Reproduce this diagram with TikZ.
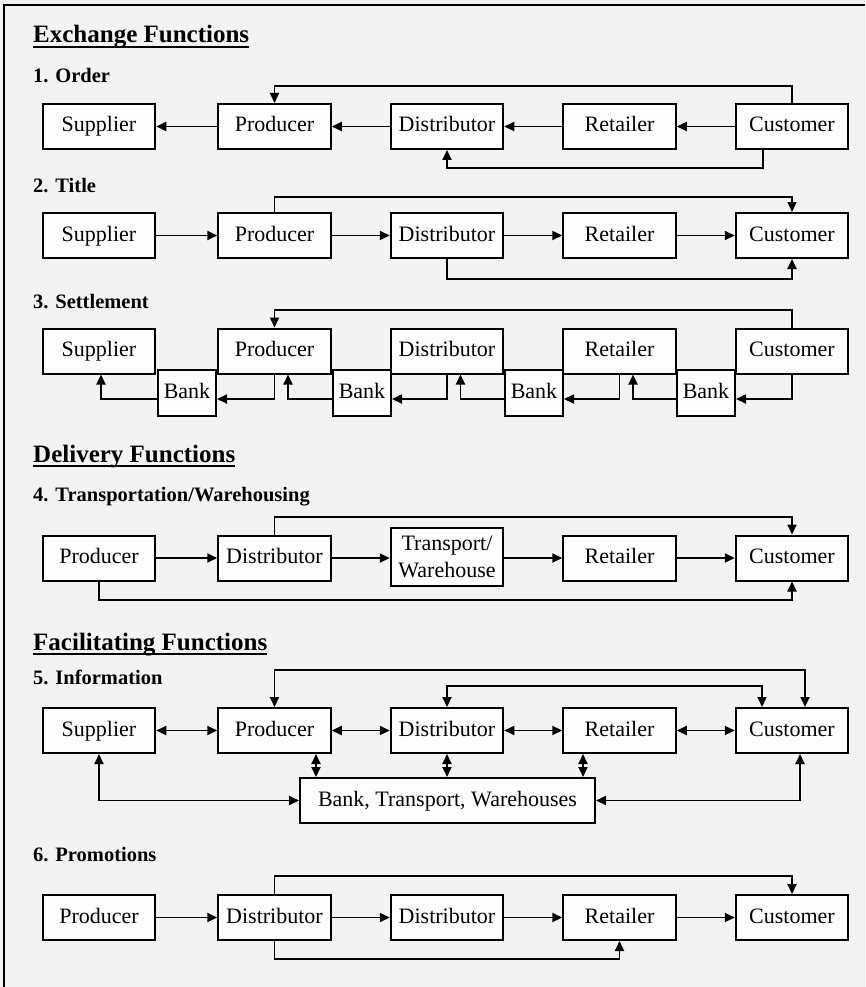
\documentclass[tikz,border=0pt]{standalone}
\usepackage{fontspec}
\setmainfont{Liberation Serif}
\usetikzlibrary{arrows.meta}
\definecolor{paper}{HTML}{F3F3F3}
\definecolor{boxfill}{HTML}{FDFDFD}
\begin{document}
\begin{tikzpicture}[x=1pt,y=-1pt,
  >={Triangle[length=10pt,width=9pt]},
  boxbase/.style={draw,line width=2pt,fill=boxfill,minimum width=112.5pt,
    minimum height=45pt,inner sep=0pt,font=\fontsize{22}{27}\selectfont},
  box/.style={boxbase,text height=15pt,text depth=4pt},
  bankbox/.style={box,minimum width=58pt,minimum height=46pt},
  conn/.style={line width=1.9pt},
  sechead/.style={anchor=base west,inner sep=0pt,font=\fontsize{25}{29}\selectfont\bfseries},
  numhead/.style={anchor=base west,inner sep=0pt,font=\fontsize{20.5}{24}\selectfont\bfseries},
  rule/.style={line width=1.6pt},
]
% page and frame
\fill[paper] (0,0) rectangle (865,987);
\useasboundingbox (0,0) rectangle (865,987);
\draw[line width=2pt] (4,987) -- (4,5) -- (865,5);

% ---------------- Exchange functions ----------------
\node[sechead] (h1) at (33,43) {Exchange Functions};
\draw[rule] ([yshift=-4pt]h1.base west) -- ([yshift=-4pt]h1.base east);

% 1. Order
\node[numhead] (n1) at (33,83) {1. Order};
\node[box] (s1) at (99,126.5) {Supplier};
\node[box] (p1) at (274.5,126.5) {Producer};
\node[box] (d1) at (447,126.5) {Distributor};
\node[box] (r1) at (619.5,126.5) {Retailer};
\node[box] (c1) at (792,126.5) {Customer};
\coordinate (o1a) at (0,86);
\coordinate (o1b) at (0,168);
\draw[conn,->] (c1) -- (r1);
\draw[conn,->] (r1) -- (d1);
\draw[conn,->] (d1) -- (p1);
\draw[conn,->] (p1) -- (s1);
\draw[conn,->] (c1.north) -- (c1.north |- o1a) -| (p1.north);
\draw[conn,->] ([xshift=-29pt]c1.south) -- ([xshift=-29pt]c1.south |- o1b) -| (d1.south);

% 2. Title
\node[numhead] (n2) at (33,193) {2. Title};
\node[box] (s2) at (99,235.5) {Supplier};
\node[box] (p2) at (274.5,235.5) {Producer};
\node[box] (d2) at (447,235.5) {Distributor};
\node[box] (r2) at (619.5,235.5) {Retailer};
\node[box] (c2) at (792,235.5) {Customer};
\coordinate (o2a) at (0,197);
\coordinate (o2b) at (0,279);
\draw[conn,->] (s2) -- (p2);
\draw[conn,->] (p2) -- (d2);
\draw[conn,->] (d2) -- (r2);
\draw[conn,->] (r2) -- (c2);
\draw[conn,->] (p2.north) -- (p2.north |- o2a) -| (c2.north);
\draw[conn,->] (d2.south) -- (d2.south |- o2b) -| (c2.south);

% 3. Settlement
\node[numhead] (n3) at (33,308) {3. Settlement};
\node[box] (s3) at (99,351) {Supplier};
\node[box] (p3) at (274.5,351) {Producer};
\node[box] (d3) at (447,351) {Distributor};
\node[box] (r3) at (619.5,351) {Retailer};
\node[box] (c3) at (792,351) {Customer};
\node[bankbox] (k1) at (187,393) {Bank};
\node[bankbox] (k2) at (362,393) {Bank};
\node[bankbox] (k3) at (534,393) {Bank};
\node[bankbox] (k4) at (706,393) {Bank};
\coordinate (o3a) at (0,310);
\draw[conn,->] (c3.north) -- (c3.north |- o3a) -| (p3.north);
\draw[conn,->] ([yshift=-6pt]k1.west) -| ([xshift=2pt]s3.south);
\draw[conn,->] (p3.south) |- ([yshift=-6pt]k1.east);
\draw[conn,->] ([yshift=-6pt]k2.west) -| ([xshift=13.5pt]p3.south);
\draw[conn,->] (d3.south) |- ([yshift=-6pt]k2.east);
\draw[conn,->] ([yshift=-6pt]k3.west) -| ([xshift=13.5pt]d3.south);
\draw[conn,->] (r3.south) |- ([yshift=-6pt]k3.east);
\draw[conn,->] ([yshift=-6pt]k4.west) -| ([xshift=13.5pt]r3.south);
\draw[conn,->] (c3.south) |- ([yshift=-6pt]k4.east);

% ---------------- Delivery functions ----------------
\node[sechead] (h2) at (33,462) {Delivery Functions};
\draw[rule] ([yshift=-4pt]h2.base west) -- ([yshift=-4pt]h2.base east);

% 4. Transportation/Warehousing
\node[numhead] (n4) at (33,501) {4. Transportation/Warehousing};
\node[box] (q4) at (99,558) {Producer};
\node[box] (d4) at (274.5,558) {Distributor};
\node[boxbase,minimum height=58pt,align=center] (t4) at (447,557) {Transport/\\Warehouse};
\node[box] (r4) at (619.5,558) {Retailer};
\node[box] (c4) at (792,558) {Customer};
\coordinate (o4a) at (0,517);
\coordinate (o4b) at (0,600);
\draw[conn,->] (q4) -- (d4);
\draw[conn,->] (d4) -- (d4 -| t4.west);
\draw[conn,->] (t4.east |- r4) -- (r4);
\draw[conn,->] (r4) -- (c4);
\draw[conn,->] (d4.north) -- (d4.north |- o4a) -| (c4.north);
\draw[conn,->] (q4.south) -- (q4.south |- o4b) -| (c4.south);

% ---------------- Facilitating functions ----------------
\node[sechead] (h3) at (33,650) {Facilitating Functions};
\draw[rule] ([yshift=-4pt]h3.base west) -- ([yshift=-4pt]h3.base east);

% 5. Information
\node[numhead] (n5) at (33,684) {5. Information};
\node[box] (s5) at (99,730.5) {Supplier};
\node[box] (p5) at (274.5,730.5) {Producer};
\node[box] (d5) at (447,730.5) {Distributor};
\node[box] (r5) at (619.5,730.5) {Retailer};
\node[box] (c5) at (792,730.5) {Customer};
\node[box,minimum width=295pt] (w5) at (447.5,800.5) {Bank, Transport, Warehouses};
\coordinate (o5a) at (0,670);
\coordinate (o5b) at (0,686);
\draw[conn,<->] (s5) -- (p5);
\draw[conn,<->] (p5) -- (d5);
\draw[conn,<->] (d5) -- (r5);
\draw[conn,<->] (r5) -- (c5);
\draw[conn,<->] (p5.north) -- (p5.north |- o5a) -| ([xshift=13pt]c5.north);
\draw[conn,<->] (d5.north) -- (d5.north |- o5b) -| ([xshift=-30pt]c5.north);
\draw[conn,<->] ([xshift=41.5pt]p5.south) -- ([xshift=41.5pt]p5.south |- w5.north);
\draw[conn,<->] (d5.south) -- (d5.south |- w5.north);
\draw[conn,<->] ([xshift=-36.5pt]r5.south) -- ([xshift=-36.5pt]r5.south |- w5.north);
\draw[conn,<->] (s5.south) |- (w5.west);
\draw[conn,<->] ([xshift=8pt]c5.south) |- (w5.east);

% 6. Promotions
\node[numhead] (n6) at (33,861) {6. Promotions};
\node[box] (q6) at (99,917.5) {Producer};
\node[box] (d6) at (274.5,917.5) {Distributor};
\node[box] (e6) at (447,917.5) {Distributor};
\node[box] (r6) at (619.5,917.5) {Retailer};
\node[box] (c6) at (792,917.5) {Customer};
\coordinate (o6a) at (0,876);
\coordinate (o6b) at (0,959);
\draw[conn,->] (q6) -- (d6);
\draw[conn,->] (d6) -- (e6);
\draw[conn,->] (e6) -- (r6);
\draw[conn,->] (r6) -- (c6);
\draw[conn,->] (d6.north) -- (d6.north |- o6a) -| (c6.north);
\draw[conn,->] (d6.south) -- (d6.south |- o6b) -| (r6.south);
\end{tikzpicture}
\end{document}
